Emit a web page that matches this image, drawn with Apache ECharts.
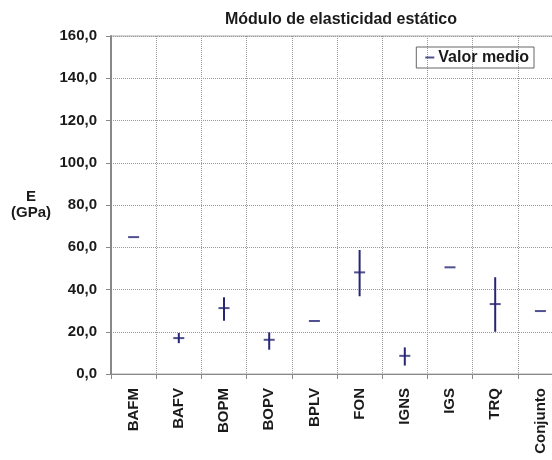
<!DOCTYPE html>
<html>
<head>
<meta charset="utf-8">
<script src="https://cdn.jsdelivr.net/npm/echarts@6/dist/echarts.min.js"></script>
<style>
  html, body { margin: 0; padding: 0; background: #fff; }
  #chart { width: 552px; height: 460px; }
</style>
</head>
<body>
<div id="chart"></div>
<script>
// Módulo de elasticidad estático por litotipo
const categories = ['BAFM', 'BAFV', 'BOPM', 'BOPV', 'BPLV', 'FON', 'IGNS', 'IGS', 'TRQ', 'Conjunto'];
const meanVals = [64.8, 17.0, 31.2, 16.2, 25.1, 48.1, 8.6, 50.5, 33.1, 29.8];
const minVals = [null, 14.6, 25.2, 11.5, null, 36.8, 4.0, null, 20.0, null];
const maxVals = [null, 19.4, 36.3, 19.7, null, 58.7, 12.6, null, 45.8, null];

const navy = '#262673';
const font = 'Liberation Sans';
const ink = '#1a1a1a';

const rangeData = categories.map(function (c, i) {
    return [i, minVals[i], maxVals[i]];
});

const chart = echarts.init(document.getElementById('chart'));

const option = {
    animation: false,
    textStyle: { fontFamily: font },
    title: {
        text: 'Módulo de elasticidad estático',
        left: 336,
        textAlign: 'center',
        top: 7,
        textStyle: { fontFamily: font, fontSize: 16, fontWeight: 'bold', color: ink }
    },
    legend: {
        right: 18,
        top: 47,
        data: ['Valor medio'],
        icon: 'rect',
        itemWidth: 9,
        itemHeight: 2,
        itemGap: 0,
        padding: [2, 5, 2, 9],
        borderColor: '#666',
        borderWidth: 1,
        textStyle: { fontFamily: font, fontSize: 16, fontWeight: 'bold', color: ink, lineHeight: 17, padding: [0, 0, 0, -1] }
    },
    grid: {
        left: 111,
        top: 36,
        width: 452,
        height: 338,
        outerBoundsMode: 'none',
        containLabel: false,
        show: true,
        borderColor: '#aaa',
        borderWidth: 1
    },
    xAxis: {
        type: 'category',
        data: categories,
        boundaryGap: true,
        axisLine: { lineStyle: { color: '#888', width: 1 } },
        axisTick: { show: true, length: 5, interval: 0, lineStyle: { color: '#888' } },
        axisLabel: {
            rotate: 90,
            interval: 0,
            margin: 14,
            fontFamily: font,
            fontSize: 15,
            fontWeight: 'bold',
            color: ink
        },
        splitLine: { show: true, interval: 0, lineStyle: { type: 'dotted', color: '#999' } }
    },
    yAxis: {
        type: 'value',
        min: 0,
        max: 160,
        interval: 20,
        name: 'E\n(GPa)',
        nameLocation: 'middle',
        nameRotate: 0,
        nameGap: 80,
        nameTextStyle: { fontFamily: font, fontSize: 15, fontWeight: 'bold', color: ink, align: 'center', lineHeight: 16 },
        axisLine: { show: true, lineStyle: { color: '#888', width: 2 } },
        axisTick: { show: true, length: 5, lineStyle: { color: '#888' } },
        axisLabel: {
            margin: 14,
            fontFamily: font,
            fontSize: 15,
            fontWeight: 'bold',
            color: ink,
            formatter: function (v) { return v.toFixed(1).replace('.', ','); }
        },
        splitLine: { show: true, lineStyle: { type: 'dotted', color: '#999' } }
    },
    series: [
        {
            name: 'Rango',
            type: 'custom',
            data: rangeData,
            encode: { x: 0, y: [1, 2] },
            renderItem: function (params, api) {
                if (api.value(1) == null || isNaN(api.value(1))) return null;
                const a = api.coord([api.value(0), api.value(1)]);
                const b = api.coord([api.value(0), api.value(2)]);
                return {
                    type: 'line',
                    shape: { x1: a[0], y1: a[1], x2: b[0], y2: b[1] },
                    style: { stroke: navy, lineWidth: 2 }
                };
            },
            z: 3
        },
        {
            name: 'Valor medio',
            type: 'scatter',
            data: meanVals,
            symbol: 'rect',
            symbolSize: [11, 2],
            itemStyle: { color: navy },
            z: 4
        }
    ]
};

chart.setOption(option);
</script>
</body>
</html>
